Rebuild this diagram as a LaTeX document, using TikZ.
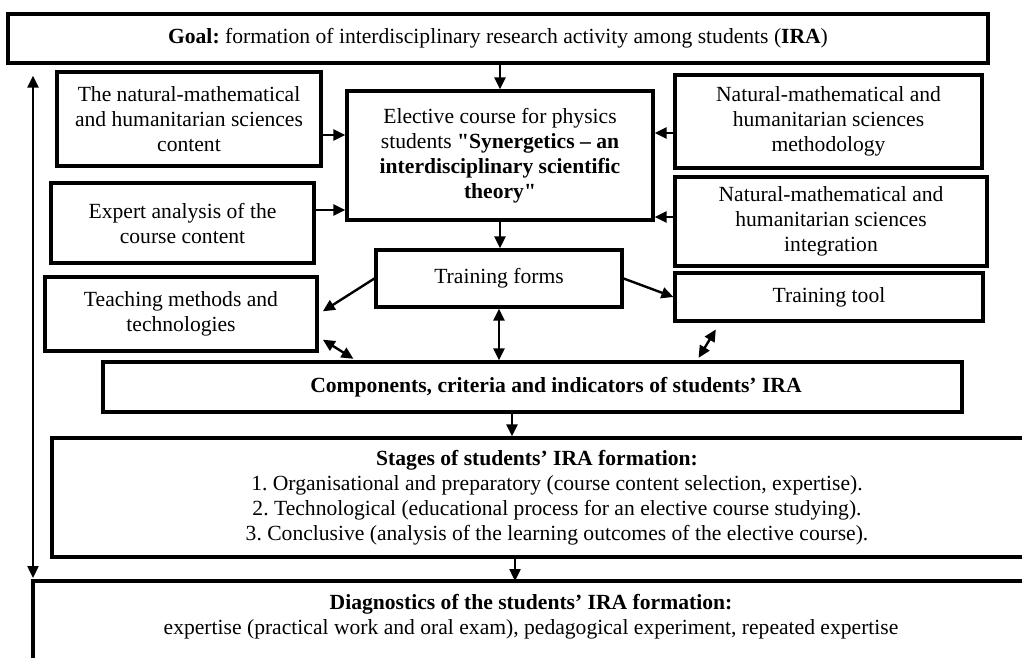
\documentclass[tikz,border=0pt]{standalone}
\usepackage{fontspec}
\setmainfont{Liberation Serif}[Ligatures=TeXOff]
\usetikzlibrary{arrows.meta}
\usetikzlibrary{positioning}
\frenchspacing

\begin{document}
\begin{tikzpicture}
          [x=0.5pt, y=-0.5pt,
           every node/.style={font=\fontsize{10.8}{12.5}\selectfont, align=center, inner sep=0pt},
           box/.style={draw, line width=1.6pt},
           link/.style={line width=1.2pt},
           >={Triangle[length=6pt,width=5.5pt]}]
          \useasboundingbox (0,0) rectangle (1022,658);
          \clip (0,0) rectangle (1022,658);

          \node (goal) [box, minimum width=490pt, minimum height=24.5pt] at (498,38.5)
                {\textbf{Goal:} formation of interdisciplinary research activity among students (\textbf{IRA})};
          \node (content) [box, minimum width=132pt, minimum height=47pt] at (189,119)
                {The natural-mathematical\\ and humanitarian sciences\\ content};
          \node (expert) [box, minimum width=131.5pt, minimum height=40pt] at (182.5,223)
                {Expert analysis of the\\ course content};
          \node (elective) [box, minimum width=153pt, minimum height=64.5pt] at (500,155.5)
                {Elective course for physics\\ students \textbf{"Synergetics – an}\\ \textbf{interdisciplinary scientific}\\ \textbf{theory"}};
          \node (method) [box, minimum width=153.5pt, minimum height=46.5pt] at (828.5,121.5)
                {Natural-mathematical and\\ humanitarian sciences\\ methodology};
          \node (integr) [box, minimum width=156pt, minimum height=44.5pt] at (831,221.5)
                {Natural-mathematical and\\ humanitarian sciences\\ integration};
          \node (forms) [box, minimum width=123pt, minimum height=28.5pt] at (499,278.5) {Training forms};
          \node (teach) [box, minimum width=136pt, minimum height=37pt] at (181,314)
                {Teaching methods and\\ technologies};
          \node (tool) [box, minimum width=154pt, minimum height=24pt] at (829,297) {Training tool};
          \node (comp) [box, minimum width=429.5pt, minimum height=25pt] at (532.5,387)
                {\hspace*{23.5pt}\textbf{Components, criteria and indicators of students’ IRA}};
          \node (stages) [box, minimum width=505pt, minimum height=59.5pt] at (557,497.5)
                {\hspace*{-20pt}\textbf{Stages of students’ IRA formation:}\\
                 1. Organisational and preparatory (course content selection, expertise).\\
                 2. Technological (educational process for an elective course studying).\\
                 3. Conclusive (analysis of the learning outcomes of the elective course).};
          \coordinate (dtop) at (33,581);
          \draw[box] (dtop -| 1040,0) -- (dtop) -- (dtop |- 0,690);
          \node (diag) at (531,616.5)
                {\textbf{Diagnostics of the students’ IRA formation:}\\
                 expertise (practical work and oral exam), pedagogical experiment, repeated expertise};

          \draw[link, ->] (elective.north |- goal.south) -- (elective.north);
          \draw[link, ->] (content.east |- 0,135) -- (elective.west |- 0,135);
          \draw[link, ->] (expert.east |- 0,210) -- (elective.west |- 0,210);
          \draw[link, ->] (method.west |- 0,133) -- (elective.east |- 0,133);
          \draw[link, ->] (integr.west |- 0,217) -- (elective.east |- 0,217);
          \draw[link, ->] (elective.south) -- (elective.south |- forms.north);
          \draw[link, ->, shorten >=2.5pt] (forms.west) -- (teach.east);
          \draw[link, ->] (forms.east) -- (tool.west);
          \draw[link, <->] (forms.south) -- (forms.south |- comp.north);
          \draw[link, <->, shorten <=2.5pt, shorten >=1.5pt] (teach.east |- 0,337) -- (comp.north -| 356,0);
          \draw[link, <->, shorten <=4pt, shorten >=1.5pt] (tool.south -| 720,0) -- (comp.north -| 697,0);
          \draw[link, ->] (comp.south -| 512,0) -- (stages.north -| 512,0);
          \draw[link, ->] (stages.south -| 515,0) -- (dtop -| 515,0);
          \draw[link, <->, shorten <=1.5pt, shorten >=5.5pt] (dtop) -- (goal.south -| dtop);

        \end{tikzpicture}
\end{document}
